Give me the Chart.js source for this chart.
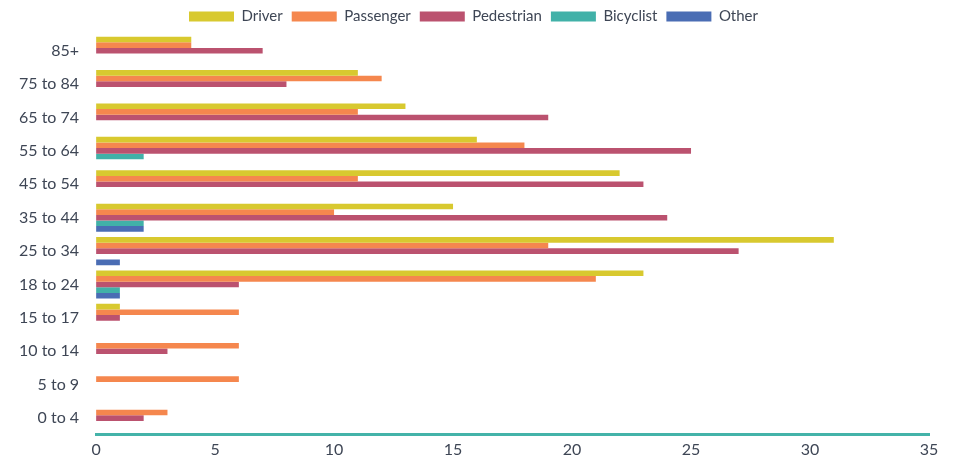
<!DOCTYPE html>
<html>
    <head>
        <meta charset="UTF-8">
        <title>Fatalities by Age Group</title>
        <script src="https://cdn.jsdelivr.net/npm/chart.js"></script>
        <style>
            body { margin: 0; background: #ffffff; }
            #chart_box { width: 957px; height: 464px; }
        </style>
    </head>
    <body>
        <div id="chart_box">
            <canvas id="age_chart_canvas"></canvas>
        </div>

    <script>
//                                                              DATA
//---------------------------------------------------------------------------------------------------------------------------------------------------------
    const age_groups = ['85+', '75 to 84', '65 to 74', '55 to 64', '45 to 54', '35 to 44', '25 to 34', '18 to 24', '15 to 17', '10 to 14', '5 to 9', '0 to 4'];

    const driver     = [4, 11, 13, 16, 22, 15, 31, 23, 1, 0, 0, 0];
    const passenger  = [4, 12, 11, 18, 11, 10, 19, 21, 6, 6, 6, 3];
    const pedestrian = [7, 8, 19, 25, 23, 24, 27, 6, 1, 3, 0, 2];
    const bicyclist  = [0, 0, 0, 2, 0, 2, 0, 1, 0, 0, 0, 0];
    const other      = [0, 0, 0, 0, 0, 2, 1, 1, 0, 0, 0, 0];

    const x_ticks = [0, 5, 10, 15, 20, 25, 30, 35];

//                                                              GRAPH
//---------------------------------------------------------------------------------------------------------------------------------------------------------
    const text_colour = '#3e4655';
    const tick_font = { family: 'Lato', size: 16 };

    function makeSet(label, values, colour) {
        return {
            label: label,
            data: values,
            backgroundColor: colour,
            borderWidth: 0,
            categoryPercentage: 0.84,
            barPercentage: 1.0,
        };
    }

    // legend sits a little right of the canvas centre in the original
    const legend_nudge = {
        id: 'legend_nudge',
        afterLayout(chart) {
            chart.legend.left += 8;
            chart.legend.right += 8;
        }
    };

    let age_chart = new Chart(document.getElementById('age_chart_canvas'), {
        type: 'bar',
        data: {
            labels: age_groups,
            datasets: [
                makeSet('Driver', driver, '#d8c92f'),
                makeSet('Passenger', passenger, '#f5874e'),
                makeSet('Pedestrian', pedestrian, '#bb526f'),
                makeSet('Bicyclist', bicyclist, '#41b1a8'),
                makeSet('Other', other, '#4a6db4'),
            ]
        },
        options: {
            indexAxis: 'y',
            responsive: true,
            maintainAspectRatio: false,
            animation: false,
            layout: {
                padding: { left: 2, right: 28, top: 0, bottom: 0 }
            },
            plugins: {
                legend: {
                    position: 'top',
                    labels: {
                        boxWidth: 45,
                        boxHeight: 10,
                        padding: 9,
                        color: text_colour,
                        font: { family: 'Lato', size: 15 },
                    },
                },
                tooltip: { enabled: false },
            },
            scales: {
                x: {
                    min: 0,
                    max: 35,
                    afterBuildTicks: (axis) => { axis.ticks = x_ticks.map(v => ({ value: v })); },
                    grid: { display: false, drawTicks: false },
                    border: { display: true, color: '#44b3a9', width: 3 },
                    ticks: {
                        color: text_colour,
                        padding: 5,
                        font: tick_font,
                    },
                },
                y: {
                    grid: { display: false, drawTicks: false },
                    border: { display: false },
                    ticks: {
                        color: text_colour,
                        padding: 17,
                        font: tick_font,
                    },
                },
            },
        },
        plugins: [legend_nudge],
    });
    </script>
    </body>
</html>
